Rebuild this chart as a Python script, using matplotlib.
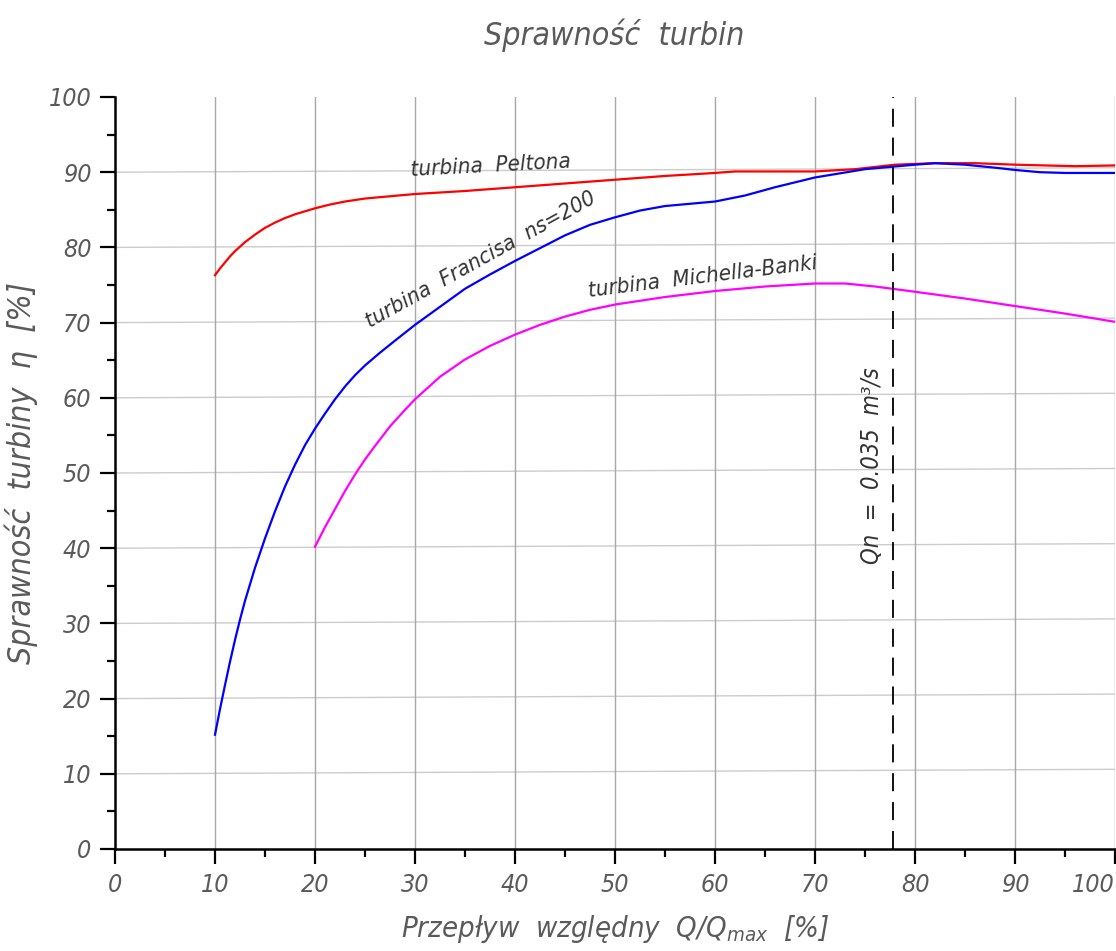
import matplotlib
matplotlib.use("Agg")
import matplotlib.pyplot as plt
from matplotlib.ticker import MultipleLocator

#---------
# DATA
#---------

# Pelton turbine
pelton_x = [10, 10.5, 11, 11.5, 12, 12.5, 13, 14, 15, 16, 17, 18, 19, 20, 21.5, 23, 25, 27.5, 30, 35, 40, 45, 50, 55, 60, 62, 66, 70, 74, 78, 82, 86, 90, 93, 96, 100]
pelton_y = [76.3, 77.2, 78.0, 78.8, 79.5, 80.1, 80.7, 81.7, 82.6, 83.3, 83.9, 84.4, 84.8, 85.2, 85.7, 86.1, 86.5, 86.8, 87.1, 87.5, 88.0, 88.5, 89.0, 89.5, 89.9, 90.1, 90.1, 90.1, 90.4, 91.0, 91.2, 91.2, 91.0, 90.9, 90.8, 90.9]

# Francis turbine ns=200
francis_x = [10, 10.5, 11, 11.5, 12, 12.5, 13, 14, 15, 16, 17, 18, 19, 20, 21, 22, 23, 24, 25, 26.5, 28, 30, 32.5, 35, 37.5, 40, 42.5, 45, 47.5, 50, 52.5, 55, 57.5, 60, 63, 66, 70, 75, 80, 82, 85, 88, 90, 92.5, 95, 100]
francis_y = [15.2, 18.6, 21.8, 24.9, 27.8, 30.5, 33.0, 37.4, 41.3, 44.9, 48.2, 51.1, 53.7, 55.9, 57.9, 59.8, 61.5, 63.0, 64.3, 66.0, 67.6, 69.7, 72.1, 74.5, 76.4, 78.2, 79.9, 81.6, 83.0, 84.0, 84.9, 85.5, 85.8, 86.1, 86.9, 88.0, 89.3, 90.4, 91.0, 91.2, 91.0, 90.6, 90.3, 90.0, 89.9, 89.9]

# Michell-Banki turbine
banki_x = [20, 21, 22, 23, 24, 25, 26, 27.5, 29, 30, 32.5, 35, 37.5, 40, 42.5, 45, 47.5, 50, 55, 60, 65, 70, 73, 76, 80, 85, 90, 95, 100]
banki_y = [40.2, 42.8, 45.2, 47.6, 49.8, 51.8, 53.6, 56.2, 58.4, 59.8, 62.8, 65.1, 66.9, 68.4, 69.7, 70.8, 71.7, 72.4, 73.4, 74.2, 74.8, 75.2, 75.2, 74.8, 74.1, 73.2, 72.2, 71.2, 70.1]

qn_x = 77.8

x_ticks = list(range(0, 101, 10))
y_ticks = list(range(0, 101, 10))

GRAY = "#5a5a5a"
FONT = dict(family="DejaVu Sans", stretch="condensed", style="italic", weight="light")

#---------
# PLOT
#---------

fig = plt.figure(figsize=(11.16, 9.51), dpi=100)
ax = fig.add_axes([115 / 1116, 1 - 849 / 951, 1000 / 1116, 752 / 951])
ax.set_xlim(0, 100)
ax.set_ylim(0, 100)

# grid (horizontal lines in the drawing lean slightly upwards)
for v in y_ticks[1:]:
    ax.axline((0, v), slope=0.006, color="#cccccc", lw=1.0, zorder=0)
for v in x_ticks[1:]:
    ax.axvline(v, color="#a8a8a8", lw=1.0, zorder=0)

ax.plot(pelton_x, pelton_y, color="#ff0000", lw=1.6)
ax.plot(francis_x, francis_y, color="#0000ff", lw=1.6)
ax.plot(banki_x, banki_y, color="#ff00ff", lw=1.6)
ax.axvline(qn_x, color="black", lw=1.3, dashes=(10, 6))

txt = dict(color="#333333", fontsize=16, **FONT)
ax.text(37.6, 90.9, "turbina  Peltona", rotation=3, ha="center", va="center", **txt)
ax.text(36.6, 78.3, "turbina  Francisa  ns=200", rotation=29, ha="center", va="center",
        rotation_mode="anchor", **txt)
ax.text(58.8, 76.1, "turbina  Michella-Banki", rotation=7, ha="center", va="center", **txt)
ax.text(75.7, 51.0, "Qn  =  0.035  m³/s", rotation=90, ha="center", va="center",
        **{**txt, "fontsize": 17})

# axes in CAD style
for s in ["top", "right"]:
    ax.spines[s].set_visible(False)
for s in ["left", "bottom"]:
    ax.spines[s].set_linewidth(1.8)
ax.set_xticks(x_ticks)
ax.set_yticks(y_ticks)
ax.xaxis.set_minor_locator(MultipleLocator(5))
ax.yaxis.set_minor_locator(MultipleLocator(5))
ax.tick_params(which="major", length=11, width=1.6, direction="out", pad=6,
               labelsize=18, labelcolor=GRAY)
ax.tick_params(which="minor", length=6, width=1.6, direction="out")
for lab in ax.get_xticklabels() + ax.get_yticklabels():
    lab.set(**FONT)
ax.get_xticklabels()[-1].set_ha("right")

fig.text(0.55, 0.963, "Sprawność  turbin", ha="center", va="center",
         color=GRAY, fontsize=23, **FONT)
ax.set_xlabel("Przepływ  względny  Q/Q$_{\\mathregular{max}}$  [%]", color=GRAY,
              fontsize=21, labelpad=12, **FONT)
ax.set_ylabel("Sprawność  turbiny  η  [%]", color=GRAY, fontsize=23,
              labelpad=8, **FONT)

fig.savefig("out.png", dpi=100)
